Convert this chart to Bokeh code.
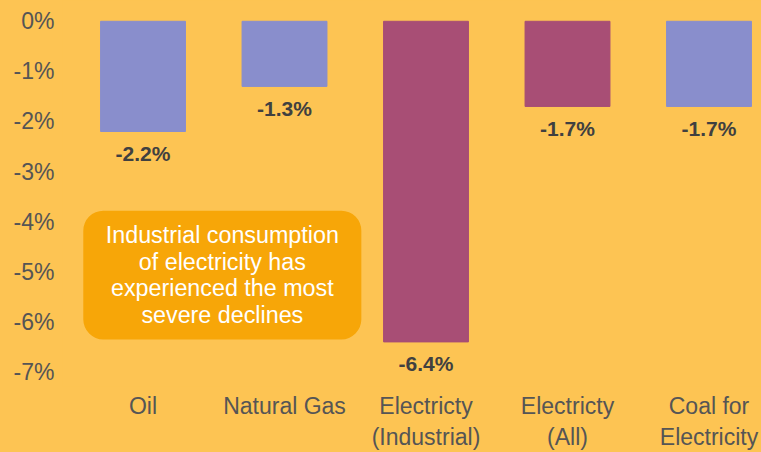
from bokeh.plotting import figure
from bokeh.models import Range1d, FixedTicker, NumeralTickFormatter, BoxAnnotation, Label, ColumnDataSource
from bokeh.core.properties import value
from bokeh.embed import file_html
from bokeh.resources import INLINE

categories = ["Oil", "Natural Gas", "Electricty\n(Industrial)", "Electricty\n(All)", "Coal for\nElectricity"]
changes = [-0.022, -0.013, -0.064, -0.017, -0.017]
bar_colors = ["#898ECC", "#898ECC", "#A84E75", "#A84E75", "#898ECC"]
y_ticks = [0, -0.01, -0.02, -0.03, -0.04, -0.05, -0.06, -0.07]
note = "Industrial consumption\nof electricity has\nexperienced the most\nsevere declines"

BG = "#FDC453"
FONT = "Liberation Sans"

xs = list(range(len(categories)))
src = ColumnDataSource(dict(
    x=xs, top=changes, color=bar_colors,
    label=[f"{v*100:.1f}%" for v in changes],
))

p = figure(width=761, height=452, output_backend="svg", toolbar_location=None,
           x_range=Range1d(-0.569, 4.371), y_range=Range1d(-0.0729, 0.00415),
           min_border_left=62, min_border_right=0, min_border_top=0, min_border_bottom=64)
p.styles = {"background-color": BG}
p.background_fill_color = BG
p.border_fill_color = BG
p.outline_line_color = None
p.grid.visible = False

p.vbar(x="x", top="top", bottom=0, width=0.6, color="color", source=src)

p.text(x="x", y="top", text="label", source=src, y_offset=22,
       text_align="center", text_baseline="middle",
       text_font=value(FONT), text_font_size="21px", text_font_style="bold",
       text_color="#404040")

box_l, box_r, box_t, box_b = -0.422, 1.543, -0.0378, -0.0635
box = BoxAnnotation(left=box_l, right=box_r, top=box_t, bottom=box_b,
                    fill_color="#F7A608", fill_alpha=1.0, line_color=None,
                    border_radius=20, level="overlay")
p.add_layout(box)
lab = Label(x=(box_l + box_r) / 2, y=(box_t + box_b) / 2, text=note,
            text_align="center", text_baseline="middle", text_font=FONT,
            text_font_size="23.3px", text_color="white", text_line_height=1.03,
            level="overlay")
p.add_layout(lab)

p.yaxis.ticker = FixedTicker(ticks=y_ticks)
p.yaxis.formatter = NumeralTickFormatter(format="0%")
p.xaxis.ticker = FixedTicker(ticks=xs)
p.xaxis.major_label_overrides = {i: c for i, c in zip(xs, categories)}

for ax in (p.xaxis[0], p.yaxis[0]):
    ax.axis_line_color = None
    ax.major_tick_line_color = None
    ax.minor_tick_line_color = None
    ax.major_tick_out = 0
    ax.major_tick_in = 0
    ax.minor_tick_out = 0
    ax.major_label_text_font = FONT
    ax.major_label_text_font_size = "23px"
    ax.major_label_text_color = "#555555"
p.yaxis.major_label_standoff = 8
p.xaxis.major_label_standoff = 6

open("out.html", "w").write(file_html(p, INLINE))
